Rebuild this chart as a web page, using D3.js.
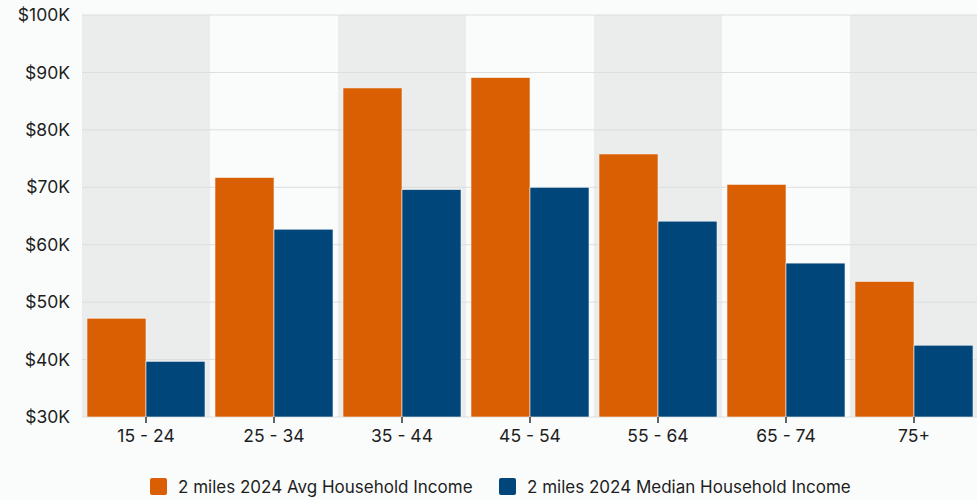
<!DOCTYPE html>
<html>
<head>
<meta charset="utf-8">
<script src="https://cdn.jsdelivr.net/npm/d3@7"></script>
<style>
  body { margin: 0; background: #fafcfc; font-family: Inter, "Noto Sans", sans-serif; }
  .axis text { font-family: Inter, sans-serif; font-size: 17.5px; fill: #1e1e1e; }
</style>
</head>
<body>
<div id="container"></div>
<script>
/* CONSTANTS AND GLOBALS */
const width = 977,
  height = 500,
  margin = { top: 15, left: 82, bottom: 83, right: -1 };

/* DATA */
const ageGroups = ["15 - 24", "25 - 34", "35 - 44", "45 - 54", "55 - 64", "65 - 74", "75+"];
const avgIncome = [47200, 71700, 87300, 89100, 75800, 70500, 53600];
const medianIncome = [39700, 62700, 69600, 70000, 64100, 56800, 42500];
const seriesNames = ["2 miles 2024 Avg Household Income", "2 miles 2024 Median Household Income"];
const seriesColors = ["#d95f02", "#00467a"];
const yTicks = [30000, 40000, 50000, 60000, 70000, 80000, 90000, 100000];

const rows = ageGroups.map((g, i) => ({ group: g, values: [avgIncome[i], medianIncome[i]] }));

// SCALES
const xScale = d3.scaleBand()
  .domain(ageGroups)
  .range([margin.left, width - margin.right])
  .padding(0);

const xInner = d3.scaleBand()
  .domain([0, 1])
  .range([5, xScale.bandwidth() - 5])
  .padding(0);

const yScale = d3.scaleLinear()
  .domain([30000, 100000])
  .range([height - margin.bottom, margin.top]);

// SVG
const svg = d3.select("#container")
  .append("svg")
  .attr("width", width)
  .attr("height", height);

// alternating band backgrounds
svg.selectAll(".band")
  .data(ageGroups)
  .join("rect")
  .attr("class", "band")
  .attr("x", d => xScale(d))
  .attr("y", yScale(100000))
  .attr("width", xScale.bandwidth())
  .attr("height", yScale(30000) - yScale(100000))
  .attr("fill", (d, i) => i % 2 === 0 ? "#ebecec" : "#fafcfc");

// grid lines
svg.selectAll(".grid")
  .data(yTicks)
  .join("line")
  .attr("class", "grid")
  .attr("x1", margin.left)
  .attr("x2", width)
  .attr("y1", d => yScale(d))
  .attr("y2", d => yScale(d))
  .attr("stroke", "#dcdddd")
  .attr("stroke-width", 1);

// BARS
const groups = svg.selectAll(".group")
  .data(rows)
  .join("g")
  .attr("class", "group")
  .attr("transform", d => `translate(${xScale(d.group)},0)`);

groups.selectAll("rect")
  .data(d => d.values.map((v, i) => ({ v, i })))
  .join("rect")
  .attr("x", d => xInner(d.i))
  .attr("y", d => yScale(d.v))
  .attr("width", xInner.bandwidth())
  .attr("height", d => yScale(30000) - yScale(d.v))
  .attr("fill", d => seriesColors[d.i])
  .attr("stroke", "#f4f4f4")
  .attr("stroke-width", 0.6);

// AXES
const xAxis = d3.axisBottom(xScale).tickSize(6).tickPadding(7);
const gx = svg.append("g")
  .attr("class", "axis")
  .attr("transform", `translate(0,${height - margin.bottom})`)
  .call(xAxis);
gx.select(".domain").remove();
gx.selectAll(".tick line").attr("stroke", "#333").attr("stroke-width", 1.5);

const yAxis = d3.axisLeft(yScale)
  .tickValues(yTicks)
  .tickSize(0)
  .tickPadding(12)
  .tickFormat(d => "$" + d / 1000 + "K");
const gy = svg.append("g")
  .attr("class", "axis")
  .attr("transform", `translate(${margin.left},0)`)
  .call(yAxis);
gy.select(".domain").remove();

// LEGEND
const legendX = [150, 499];
const legend = svg.selectAll(".legend")
  .data(seriesNames)
  .join("g")
  .attr("class", "legend")
  .attr("transform", (d, i) => `translate(${legendX[i]},478)`);

legend.append("rect")
  .attr("width", 17)
  .attr("height", 17)
  .attr("rx", 2)
  .attr("fill", (d, i) => seriesColors[i]);

legend.append("text")
  .attr("x", 28)
  .attr("y", 15)
  .style("font-family", "Inter, sans-serif")
  .style("font-size", "17px")
  .attr("fill", "#1e1e1e")
  .text(d => d);
</script>
</body>
</html>
